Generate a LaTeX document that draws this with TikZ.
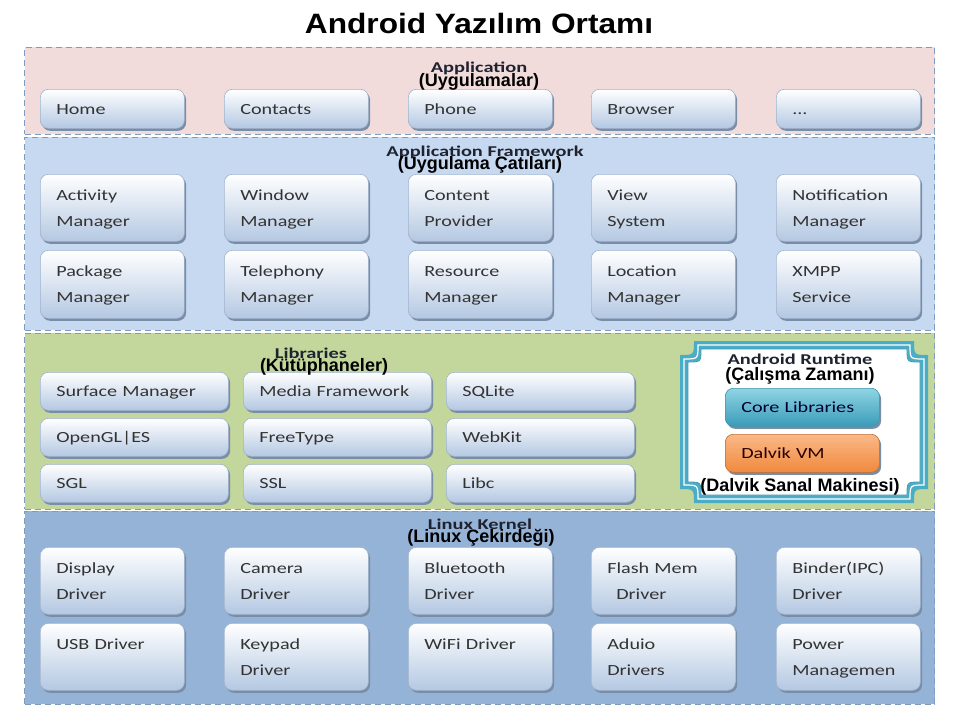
\documentclass[tikz,border=0pt]{standalone}
\usepackage{fontspec}
\usetikzlibrary{shadows}
\newfontfamily\bxfont[FakeStretch=1.3]{Carlito}
\newfontfamily\ttlfont[FakeStretch=1.36]{Carlito}
\newfontfamily\capfont{Liberation Sans}
\newfontfamily\bigfont[FakeStretch=1.13]{Liberation Sans}
\definecolor{appc}{HTML}{F2DCDB}
\definecolor{fwc}{HTML}{C6D9F1}
\definecolor{libc}{HTML}{C3D69B}
\definecolor{kerc}{HTML}{95B3D7}
\definecolor{bordc}{HTML}{7D9CC0}
\definecolor{boxblue}{HTML}{B4C8E2}
\definecolor{boxline}{HTML}{9FB3CB}
\definecolor{shadowc}{HTML}{7A8DA6}
\definecolor{txtc}{HTML}{333333}
\definecolor{rtc}{HTML}{4BACC6}
\definecolor{rtdark}{HTML}{3D98B0}
\definecolor{coretop}{HTML}{8FD4E4}
\definecolor{corebot}{HTML}{3A9CB8}
\definecolor{dvtop}{HTML}{FBB888}
\definecolor{dvbot}{HTML}{F08A3C}
\definecolor{ttlc}{HTML}{1F2330}
\newcommand\rtplaque[5]{(#1+#5,#2) -- (#3-#5,#2) .. controls (#3-#5,#2+#5) .. (#3,#2+#5) -- (#3,#4-#5) .. controls (#3-#5,#4-#5) .. (#3-#5,#4) -- (#1+#5,#4) .. controls (#1+#5,#4-#5) .. (#1,#4-#5) -- (#1,#2+#5) .. controls (#1+#5,#2+#5) .. (#1+#5,#2) -- cycle}
\tikzset{
  layer/.style={draw=bordc, line width=1.3pt, dash pattern=on 6pt off 4pt, anchor=north west, inner sep=0pt, minimum width=910pt},
  comp/.style={draw=boxline, line width=0.6pt, rounded corners=8pt,
    top color=white, middle color=white!75!boxblue, bottom color=boxblue,
    general shadow={fill=shadowc, shadow xshift=1.8pt, shadow yshift=-2.5pt},
    anchor=north west, align=left, inner xsep=16pt, inner ysep=0pt,
    font=\bxfont\fontsize{15.5}{26}\selectfont, text=txtc},
  wbox/.style={comp, minimum width=144pt, text width=112pt},
  lbox/.style={comp, minimum width=188pt, text width=156pt, minimum height=38pt},
  rbox/.style={comp, minimum width=152pt, text width=122pt, minimum height=38pt},
  lttl/.style={font=\ttlfont\bfseries\fontsize{15}{16}\selectfont, text=ttlc, inner sep=0pt},
  capt/.style={font=\capfont\bfseries\fontsize{18}{19}\selectfont, text=black, inner sep=0pt},
}
\begin{document}
\begin{tikzpicture}[x=1pt,y=-1pt]
\useasboundingbox (0,0) rectangle (955,718);
\fill[white] (0,0) rectangle (955,718);
% title
\node[font=\bigfont\bfseries\fontsize{28}{30}\selectfont, inner sep=0pt] (title) at (479,23) {Android Yazılım Ortamı};
% layers
\node[layer, fill=appc, minimum height=87pt] (lapp) at (24,46.5) {};
\node[layer, fill=fwc, minimum height=193pt] (lfw) at (24,136.5) {};
\node[layer, fill=libc, minimum height=176pt] (llib) at (24,332.5) {};
\node[layer, fill=kerc, minimum height=193pt] (lker) at (24,510.5) {};
% application
\node[wbox, minimum height=39pt] (home) at (40,89) {\strut Home};
\node[wbox, minimum height=39pt] (contacts) at (224,89) {\strut Contacts};
\node[wbox, minimum height=39pt] (phone) at (408,89) {\strut Phone};
\node[wbox, minimum height=39pt] (browser) at (591,89) {\strut Browser};
\node[wbox, minimum height=39pt] (dots) at (776,89) {\strut ...};
% framework
\node[wbox, minimum height=67pt] (am) at (40,174) {\strut Activity\\\strut Manager};
\node[wbox, minimum height=67pt] (wm) at (224,174) {\strut Window\\\strut Manager};
\node[wbox, minimum height=67pt] (cp) at (408,174) {\strut Content\\\strut Provider};
\node[wbox, minimum height=67pt] (vs) at (591,174) {\strut View\\\strut System};
\node[wbox, minimum height=67pt] (nm) at (776,174) {\strut Notification\\\strut Manager};
\node[wbox, minimum height=68pt] (pm) at (40,250) {\strut Package\\\strut Manager};
\node[wbox, minimum height=68pt] (tm) at (224,250) {\strut Telephony\\\strut Manager};
\node[wbox, minimum height=68pt] (rm) at (408,250) {\strut Resource\\\strut Manager};
\node[wbox, minimum height=68pt] (lm) at (591,250) {\strut Location\\\strut Manager};
\node[wbox, minimum height=68pt] (xs) at (776,250) {\strut XMPP\\\strut Service};
% libraries
\node[lbox] (sm) at (40,372) {\strut Surface Manager};
\node[lbox] (mf) at (243,372) {\strut Media Framework};
\node[lbox] (sq) at (446,372) {\strut SQLite};
\node[lbox] (gl) at (40,418) {\strut OpenGL|ES};
\node[lbox] (ft) at (243,418) {\strut FreeType};
\node[lbox] (wk) at (446,418) {\strut WebKit};
\node[lbox] (sgl) at (40,464) {\strut SGL};
\node[lbox] (ssl) at (243,464) {\strut SSL};
\node[lbox] (lc) at (446,464) {\strut Libc};
% runtime frame
\path[fill=rtc] \rtplaque{680}{341}{928}{503}{14};
\path[draw=white, line width=1.2pt] \rtplaque{684}{345}{924}{499}{14};
\path[fill=white, draw=rtdark, line width=0.8pt] \rtplaque{688}{349}{920}{495}{13};
\node[rbox, top color=coretop, middle color=coretop!50!corebot, bottom color=corebot, draw=rtdark, text=black!80!blue] (core) at (725,388) {\strut Core Libraries};
\node[rbox, top color=dvtop, middle color=dvtop!50!dvbot, bottom color=dvbot, draw=dvbot!80!black, text=black!85!red] (dvm) at (725,434) {\strut Dalvik VM};
% kernel
\node[wbox, minimum height=67pt] (dd) at (40,547) {\strut Display\\\strut Driver};
\node[wbox, minimum height=67pt] (cd) at (224,547) {\strut Camera\\\strut Driver};
\node[wbox, minimum height=67pt] (bd) at (408,547) {\strut Bluetooth\\\strut Driver};
\node[wbox, minimum height=67pt] (fd) at (591,547) {\strut Flash Mem\\\strut\hspace*{9pt}Driver};
\node[wbox, minimum height=67pt] (ipc) at (776,547) {\strut Binder(IPC)\\\strut Driver};
\node[wbox, minimum height=67pt] (usb) at (40,623) {\strut USB Driver\\\strut};
\node[wbox, minimum height=67pt] (kd) at (224,623) {\strut Keypad\\\strut Driver};
\node[wbox, minimum height=67pt] (wf) at (408,623) {\strut WiFi Driver\\\strut};
\node[wbox, minimum height=67pt] (ad) at (591,623) {\strut Aduio\\\strut Drivers};
\node[wbox, minimum height=67pt] (pw) at (776,623) {\strut Power\\\strut Managemen};
% layer titles
\node[lttl] (tapp) at (479,68) {Application};
\node[lttl] (tfw) at (485,152) {Application Framework};
\node[lttl] (tlib) at (311,353) {Libraries};
\node[lttl] (trt) at (800,359) {Android Runtime};
\node[lttl] (tker) at (480,524) {Linux Kernel};
% captions
\node[capt] (capp) at (479,82) {(Uygulamalar)};
\node[capt] (cfw) at (480,165) {(Uygulama Çatıları)};
\node[capt] (clib) at (324,367) {(Kütüphaneler)};
\node[capt] (crt) at (800,376) {(Çalışma Zamanı)};
\node[capt] (cdvm) at (800,487) {(Dalvik Sanal Makinesi)};
\node[capt] (cker) at (481,538) {(Linux Çekirdeği)};
\end{tikzpicture}
\end{document}
